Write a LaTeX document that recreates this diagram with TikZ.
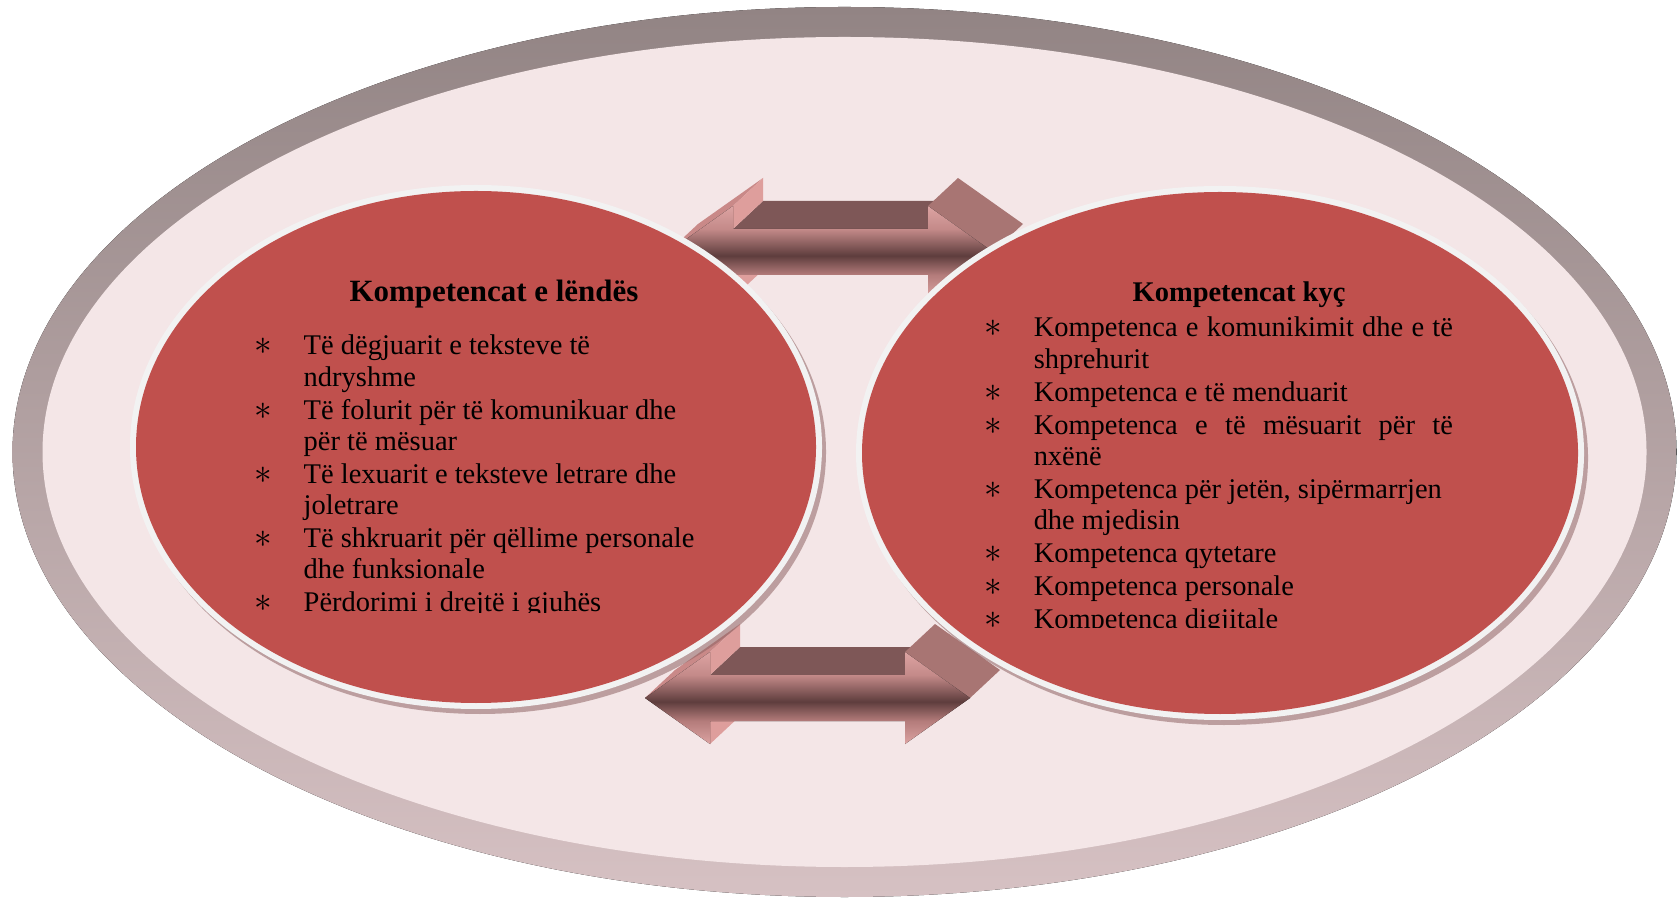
\documentclass[tikz,border=0pt]{standalone}
\usepackage{fontspec}
\setmainfont{Liberation Serif}
\definecolor{rimtop}{HTML}{928484}
\definecolor{rimmid}{HTML}{CBB8BA}
\definecolor{rimlow}{HTML}{D6C1C3}
\definecolor{face}{HTML}{F4E6E7}
\definecolor{oval}{HTML}{C0504D}
\definecolor{ring}{HTML}{F2F2F2}
\definecolor{drop}{HTML}{8E6464}
\definecolor{shaft}{HTML}{7E5757}
\definecolor{headlite}{HTML}{DE9E9C}
\definecolor{headmid}{HTML}{C98988}
\definecolor{headdark}{HTML}{A87573}
\definecolor{frontlite}{HTML}{DCA3A2}
\definecolor{fronttop}{HTML}{C48A89}
\definecolor{frontdark}{HTML}{5E3D3D}
\definecolor{frontlow}{HTML}{B47C7B}

\pgfdeclareverticalshading{arrowfront}{100bp}{color(0bp)=(frontlite); color(25bp)=(frontlite);
  color(37.5bp)=(frontlow); color(48bp)=(frontdark); color(62.5bp)=(fronttop);
  color(75bp)=(frontlite); color(100bp)=(frontlite)}

\newcommand{\bul}{{\fontsize{10}{10}\selectfont$\ast$}}

\begin{document}
\begin{tikzpicture}[
  x=0.01cm,y=-0.01cm,
  line join=round,
  heading/.style={font=\fontsize{8.1}{9.5}\selectfont\bfseries, inner sep=0pt, anchor=base},
  itemlist/.style={font=\fontsize{8.1}{8.82}\selectfont, inner sep=0pt, anchor=base west},
  ovalring/.style={fill=ring},
  ovalfill/.style={fill=oval},
  ovaldrop/.style={fill=drop, opacity=.55}
]
\useasboundingbox (0,0) rectangle (1677,898);
\fill[white] (0,0) rectangle (1677,898);

% bevelled outer plate
\fill[top color=rimtop, middle color=rimmid, bottom color=rimlow]
  (844.5,452) ellipse (832 and 445);
\fill[face] (844.5,452) ellipse (802 and 415);

% 3d double arrows, ovals go on top of them
\foreach \ax/\ay in {668/252, 645/698}{
  \begin{scope}[shift={(\ax,\ay)}]
    \fill[shaft] (65,-23) -- (260,-23) -- (290,-51) -- (95,-51) -- cycle;
    \fill[headmid] (0,0) -- (65,-46) -- (95,-74) -- (30,-28) -- cycle;
    \fill[headlite] (65,-46) -- (65,-23) -- (95,-51) -- (95,-74) -- cycle;
    \fill[headlite] (65,23) -- (65,46) -- (95,18) -- (95,-5) -- cycle;
    \fill[headdark] (260,-46) -- (325,0) -- (355,-28) -- (290,-74) -- cycle;
    \fill[shading=arrowfront] (0,0) -- (65,-46) -- (65,-23) -- (260,-23) -- (260,-46) -- (325,0)
      -- (260,46) -- (260,23) -- (65,23) -- (65,46) -- cycle;
  \end{scope}
}

% subject oval and key competence oval
\foreach \cx/\cy/\rx/\ry in {476/447/340/256, 1220/453/358/261}{
  \fill[ovaldrop] (\cx+4,\cy+5) ellipse [x radius=\rx+6, y radius=\ry+6];
  \fill[ovalring] (\cx,\cy) ellipse [x radius=\rx+6, y radius=\ry+6];
  \fill[ovalfill] (\cx,\cy) ellipse [x radius=\rx, y radius=\ry];
}

% headings
\node[heading, font=\fontsize{8.8}{10}\selectfont\bfseries] (lendehead) at (494,302) {Kompetencat e lëndës};
\node[heading] (kychead) at (1239,302) {Kompetencat kyç};

% left list, cut off at the bottom like the text box
\begin{scope}
  \clip (180,310) rectangle (780,613);
  \node[itemlist] (lendelist) at (254,355) {%
    \begin{tabular}[t]{@{}p{0.49cm}@{}l@{}}
      \bul & Të dëgjuarit e teksteve të\\
           & ndryshme\\[0.57pt]
      \bul & Të folurit për të komunikuar dhe\\
           & për të mësuar\\[0.57pt]
      \bul & Të lexuarit e teksteve letrare dhe\\
           & joletrare\\[0.57pt]
      \bul & Të shkruarit për qëllime personale\\
           & dhe funksionale\\[0.57pt]
      \bul & Përdorimi i drejtë i gjuhës
    \end{tabular}};
\end{scope}

% right list
\begin{scope}
  \clip (930,310) rectangle (1520,627);
  \node[itemlist] (kyclist) at (984,337) {%
    \begin{tabular}[t]{@{}p{0.49cm}@{}l@{}}
      \bul & \makebox[4.19cm][s]{Kompetenca e komunikimit dhe e të}\\
           & shprehurit\\[0.57pt]
      \bul & Kompetenca e të menduarit\\[0.57pt]
      \bul & \makebox[4.19cm][s]{Kompetenca e të mësuarit për të}\\
           & nxënë\\[0.57pt]
      \bul & Kompetenca për jetën, sipërmarrjen\\
           & dhe mjedisin\\[0.57pt]
      \bul & Kompetenca qytetare\\[0.57pt]
      \bul & Kompetenca personale\\[0.57pt]
      \bul & Kompetenca digjitale
    \end{tabular}};
\end{scope}

\end{tikzpicture}
\end{document}
